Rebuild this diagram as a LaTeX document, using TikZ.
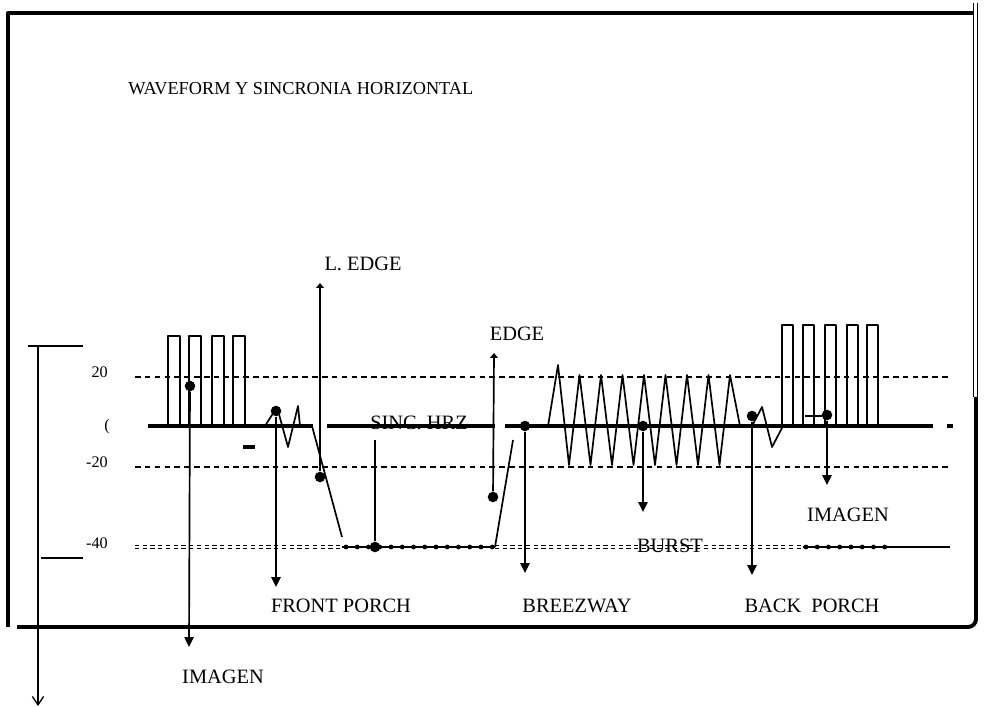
\documentclass[tikz,border=0pt]{standalone}
\usepackage{fontspec}
\setmainfont{Liberation Serif}
\usetikzlibrary{arrows.meta, calc}

\begin{document}
\begin{tikzpicture}[x=0.025cm, y=-0.025cm, line join=round,
  lbl/.style={font=\fontsize{14.5}{16}\selectfont, inner sep=0pt},
  ticklbl/.style={font=\fontsize{11.5}{12}\selectfont, inner sep=0pt, anchor=east},
  dot/.style={circle, fill, inner sep=0pt, minimum size=7.5pt},
  guide/.style={line width=1.1pt, dash pattern=on 4pt off 3pt},
  dbl/.style={line width=0.9pt, dash pattern=on 3pt off 2.5pt},
  beads/.style={line width=3.4pt, dash pattern=on 0pt off 8pt, line cap=round},
  sig/.style={line width=1.2pt},
  blank/.style={line width=2.6pt},
  frame/.style={line width=2.8pt},
  pointer/.style={line width=1.2pt, -{Triangle[length=7pt, width=6.5pt]}},
  uptip/.style={line width=1.2pt, -{Triangle[length=3.5pt, width=5.5pt]}}]
\useasboundingbox (0,0) rectangle (985,707);
% marco
\draw[frame] (8,627) -- (8,13) -- (973,13);
\draw[line width=0.8pt] (973.5,3) -- (973.5,397) (977.5,3) -- (977.5,397);
\draw[frame] (976,397) -- (976,619) to[out=-90, in=0] (968,627) -- (17,627);
\node[font=\fontsize{13}{14}\selectfont, anchor=base west, inner sep=0pt] (title) at (128,95) {WAVEFORM Y SINCRONIA HORIZONTAL};

% escala
\coordinate (sc-top) at (38,346);
\coordinate (sc-end) at (38,706);
\draw[line width=0.9pt, -{Straight Barb[length=6pt, width=8pt]}] (sc-top) -- (sc-end);
\draw[line width=0.9pt] (28,346) -- (83,346) (41,558) -- (83,558);
\node[ticklbl] (t20) at (108,372) {20};
\node[ticklbl] (t0) at (110,427) {(};
\node[ticklbl] (tm20) at (108,462) {-20};
\node[ticklbl] (tm40) at (108,543) {-40};

% niveles
\draw[guide] (135,377) -- (952,377);
\draw[guide] (135,467) -- (952,467);
\foreach \y in {545.5,548.5}
  \draw[dbl] (135,\y) -- (342,\y) (495,\y) -- (803,\y);
\draw[line width=0.8pt] (342,547) -- (495,547) (803,547) -- (950,547);
\draw[beads] (346,547) -- (495,547) (806,547) -- (893,547);

% senal
\draw[blank] (148,426) -- (313,426) (327,426) -- (495,426) (505,426) -- (933,426) (947,426) -- (953,426);
\draw[blank] (243,447) -- (255,447);
\foreach \x in {168,189,212,233}
  \draw[sig] (\x,426) -- (\x,336) -- ++(12,0) -- ++(0,90);
\foreach \x in {782,803,825,847,867}
  \draw[sig] (\x,426) -- (\x,325) -- ++(11,0) -- ++(0,101);
\draw[sig] (265,426) -- (277,407) -- (288,447) -- (298,406) -- (300,426);
\draw[sig] (312,426) -- (342,537);
\draw[sig] (495,547) -- (513,440);
\draw[sig] (548,426) -- (558,365)
  \foreach \k in {0,...,7} { -- ({569+21.5*\k},465) -- ({579.5+21.5*\k},375) } -- (740,426);
\draw[sig] (752,426) -- (762,407) -- (772,447) -- (782,428);
\draw[sig] (805,416) -- (822,416);

% marcas
\node[dot] (img-l) at (190,386) {};
\node[dot] (fp) at (276,411) {};
\node[dot] (ledge) at (320,477) {};
\node[dot] (sinc) at (375,547) {};
\node[dot] (edge) at (493,497) {};
\node[dot] (brz) at (525,426) {};
\node[dot] (burst) at (643,426) {};
\node[dot] (bp) at (752,416) {};
\node[dot] (img-r) at (827,415) {};

\coordinate (img-l-end) at (189,647);
\coordinate (fp-end) at (276,587);
\coordinate (ledge-top) at (320,283);
\coordinate (sinc-top) at (375,440);
\coordinate (edge-top) at (494,353);
\coordinate (brz-end) at (525,573);
\coordinate (burst-end) at (643,512);
\coordinate (bp-end) at (752,575);
\coordinate (img-r-end) at (827,485);

\draw[pointer] (img-l) -- (img-l-end);
\draw[pointer] (fp) -- (fp-end);
\draw[uptip] (ledge) -- (ledge-top);
\draw[sig] (sinc) -- (sinc-top);
\draw[uptip] (edge) -- (edge-top);
\draw[pointer] (brz) -- (brz-end);
\draw[pointer] (burst) -- (burst-end);
\draw[pointer] (bp) -- (bp-end);
\draw[pointer] (img-r) -- (img-r-end);

\node[lbl] (l-ledge) at (363,264) {L. EDGE};
\node[lbl] (l-edge) at (517,334) {EDGE};
\node[lbl] (l-sinc) at (419,423) {SINC. HRZ};
\node[lbl] (l-front) at (341,606) {FRONT PORCH};
\node[lbl] (l-brz) at (577,606) {BREEZWAY};
\node[lbl] (l-burst) at (670,546) {BURST};
\node[lbl] (l-back) at (812,606) {BACK\ \ PORCH};
\node[lbl] (l-img-r) at (848,515) {IMAGEN};
\node[lbl] (l-img-l) at (223,677) {IMAGEN};
\end{tikzpicture}
\end{document}
